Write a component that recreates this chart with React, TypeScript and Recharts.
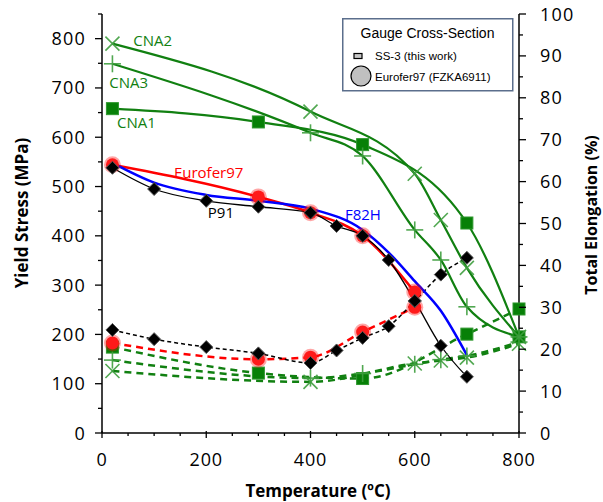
import React from 'react';
import { ComposedChart, Line, XAxis, YAxis, ReferenceDot, Legend } from 'recharts';

// yield stress (MPa, left) and total elongation (%, right) vs test temperature (C)
const euroTemps = [20, 300, 400, 500, 600];
const euroYield = [544, 479, 447, 400, 286];
const euroElong = [21.5, 17.6, 18.1, 24.1, 30.0];

const p91Temps = [20, 100, 200, 300, 400, 450, 500, 550, 600, 650, 700];
const p91Yield = [538, 495, 471, 459, 447, 420, 400, 351, 268, 177, 114];
const p91Elong = [24.6, 22.4, 20.5, 19.0, 16.7, 19.7, 22.7, 25.5, 31.5, 37.8, 41.8];

const f82hTemps = [20, 100, 200, 300, 400, 500, 550, 600, 650, 700];
const f82hYield = [548, 508, 483, 471, 455, 412, 366, 308, 248, 158];

const cna1Temps = [20, 300, 500, 700, 800];
const cna1Yield = [658, 631, 585, 426, 195];
const cna1Elong = [20.5, 14.3, 13.0, 23.6, 29.6];

const cna2Temps = [20, 400, 600, 650, 700, 800];
const cna2Yield = [790, 652, 526, 432, 335, 195];
const cna2Elong = [14.8, 12.2, 16.6, 17.3, 18.0, 21.3];

const cna3Temps = [20, 400, 500, 600, 650, 700, 800];
const cna3Yield = [749, 609, 562, 412, 351, 256, 195];
const cna3Elong = [17.4, 13.1, 14.2, 16.4, 17.5, 18.4, 21.7];

const tempTicks = [0, 50, 100, 150, 200, 250, 300, 350, 400, 450, 500, 550, 600, 650, 700, 750, 800];
const stressTicks = [0, 50, 100, 150, 200, 250, 300, 350, 400, 450, 500, 550, 600, 650, 700, 750, 800, 850];
const elongTicks = [0, 5, 10, 15, 20, 25, 30, 35, 40, 45, 50, 55, 60, 65, 70, 75, 80, 85, 90, 95, 100];

const AX_L = 102;
const AX_R = 519;
const AX_B = 433;
const FONT = '"Open Sans", "Noto Sans", sans-serif';
const GREEN = '#118011';
const MARK_GREEN = '#3f9f3f';

const pts = (ts: number[], vs: number[]) => ts.map((t, i) => ({ t, v: vs[i] }));

const LeftTick = ({ y, payload }: any) => {
  const v = payload.value;
  const major = v % 100 === 0;
  return (
    <g>
      <line x1={AX_L} x2={AX_L - (major ? 7 : 4)} y1={y} y2={y} stroke="#000" strokeWidth={1.3} />
      {major && (
        <text x={86} y={y + 6.5} textAnchor="end" fontFamily={FONT} fontSize={18} letterSpacing={1.2} fill="#000">
          {v}
        </text>
      )}
    </g>
  );
};

const RightTick = ({ y, payload }: any) => {
  const v = payload.value;
  const major = v % 10 === 0;
  return (
    <g>
      <line x1={AX_R} x2={AX_R + (major ? 7 : 4)} y1={y} y2={y} stroke="#000" strokeWidth={1.3} />
      {major && (
        <text x={540} y={y + 6.5} textAnchor="start" fontFamily={FONT} fontSize={18} letterSpacing={1.2} fill="#000">
          {v}
        </text>
      )}
    </g>
  );
};

const BottomTick = ({ x, payload }: any) => {
  const v = payload.value;
  const major = v % 200 === 0;
  return (
    <g>
      <line x1={x} x2={x} y1={major ? AX_B - 2 : AX_B} y2={AX_B + (major ? 5 : 3)} stroke="#000" strokeWidth={1.3} />
      {major && (
        <text x={x} y={466} textAnchor="middle" fontFamily={FONT} fontSize={18} letterSpacing={0.8} fill="#000">
          {v}
        </text>
      )}
    </g>
  );
};

const Square = (p: any) =>
  p.cx == null ? <g key={p.key} /> : (
    <rect key={p.key} x={p.cx - 6} y={p.cy - 6} width={12} height={12} fill="#078007" stroke="#2e972e" strokeWidth={1} />
  );

const Cross = (p: any) =>
  p.cx == null ? <g key={p.key} /> : (
    <g key={p.key} stroke={MARK_GREEN} strokeWidth={1.6} opacity={0.9}>
      <line x1={p.cx - 7} y1={p.cy - 7} x2={p.cx + 7} y2={p.cy + 7} />
      <line x1={p.cx - 7} y1={p.cy + 7} x2={p.cx + 7} y2={p.cy - 7} />
    </g>
  );

const Plus = (p: any) =>
  p.cx == null ? <g key={p.key} /> : (
    <g key={p.key} stroke={MARK_GREEN} strokeWidth={1.6} opacity={0.9}>
      <line x1={p.cx - 8.5} y1={p.cy} x2={p.cx + 8.5} y2={p.cy} />
      <line x1={p.cx} y1={p.cy - 8.5} x2={p.cx} y2={p.cy + 8.5} />
    </g>
  );

const Diamond = (p: any) =>
  p.cx == null ? <g key={p.key} /> : (
    <polygon
      key={p.key}
      points={`${p.cx},${p.cy - 6.5} ${p.cx + 6.5},${p.cy} ${p.cx},${p.cy + 6.5} ${p.cx - 6.5},${p.cy}`}
      fill="#000"
      stroke="#555"
      strokeWidth={1}
    />
  );

const RedDot = (p: any) =>
  p.cx == null ? <g key={p.key} /> : (
    <g key={p.key}>
      <circle cx={p.cx} cy={p.cy} r={8.5} fill="#ff0000" opacity={0.35} />
      <circle cx={p.cx} cy={p.cy} r={6.5} fill="#ff1a1a" />
    </g>
  );

const SeriesLabel = ({ viewBox, text, color }: any) => (
  <text
    x={viewBox.x}
    y={viewBox.y + viewBox.height / 2 + 5.5}
    fontFamily={FONT}
    fontSize={15}
    fill={color}
  >
    {text}
  </text>
);

const LegendBox = () => (
  <svg width={172} height={74} style={{ display: 'block' }}>
    <rect x={0.75} y={0.75} width={170} height={72} fill="#fff" stroke="#5b6e8c" strokeWidth={1.5} />
    <text x={85.5} y={20} textAnchor="middle" fontFamily='"Liberation Sans", Arial, sans-serif' fontSize={14} fill="#000">
      Gauge Cross-Section
    </text>
    <rect x={12} y={35.5} width={8} height={5} fill="#c8c8c8" stroke="#000" strokeWidth={1.2} />
    <text x={33} y={42} fontFamily='"Liberation Sans", Arial, sans-serif' fontSize={11.5} fill="#000">
      SS-3 (this work)
    </text>
    <circle cx={19} cy={58} r={10} fill="#c0c0c0" stroke="#000" strokeWidth={1.2} />
    <text x={33} y={63} fontFamily='"Liberation Sans", Arial, sans-serif' fontSize={11.5} fill="#000">
      Eurofer97 (FZKA6911)
    </text>
  </svg>
);

export default function App() {
  return (
    <div style={{ position: 'relative', width: 603, height: 502, background: '#fff' }}>
      <style>{'body{margin:0}'}</style>
      <ComposedChart width={603} height={502} margin={{ top: 14, right: 0, bottom: 0, left: 0 }}>
        <XAxis
          dataKey="t"
          type="number"
          domain={[0, 800]}
          ticks={tempTicks}
          interval={0}
          height={69}
          tickLine={false}
          tick={<BottomTick />}
          axisLine={{ stroke: '#000', strokeWidth: 1.5 }}
          allowDuplicatedCategory={false}
        />
        <YAxis
          yAxisId="ys"
          orientation="left"
          type="number"
          domain={[0, 850]}
          ticks={stressTicks}
          interval={0}
          width={102}
          tickLine={false}
          tick={<LeftTick />}
          axisLine={{ stroke: '#000', strokeWidth: 1.5 }}
        />
        <YAxis
          yAxisId="el"
          orientation="right"
          type="number"
          domain={[0, 100]}
          ticks={elongTicks}
          interval={0}
          width={84}
          tickLine={false}
          tick={<RightTick />}
          axisLine={{ stroke: '#000', strokeWidth: 1.5 }}
        />
        <Legend
          layout="vertical"
          align="center"
          verticalAlign="middle"
          content={<LegendBox />}
          wrapperStyle={{ position: 'absolute', left: 342, top: 18, width: 172, height: 74 }}
        />

        {/* elongation, dashed */}
        <Line yAxisId="el" data={pts(cna1Temps, cna1Elong)} dataKey="v" type="monotone" stroke={GREEN} strokeWidth={2.5} strokeDasharray="7 5" dot={Square} isAnimationActive={false} />
        <Line yAxisId="el" data={pts(cna2Temps, cna2Elong)} dataKey="v" type="monotone" stroke={GREEN} strokeWidth={2.5} strokeDasharray="7 5" dot={Cross} isAnimationActive={false} />
        <Line yAxisId="el" data={pts(cna3Temps, cna3Elong)} dataKey="v" type="monotone" stroke={GREEN} strokeWidth={2.5} strokeDasharray="7 5" dot={Plus} isAnimationActive={false} />
        <Line yAxisId="el" data={pts(euroTemps, euroElong)} dataKey="v" type="monotone" stroke="#ff0000" strokeWidth={2.5} strokeDasharray="7 5" dot={RedDot} isAnimationActive={false} />
        <Line yAxisId="el" data={pts(p91Temps, p91Elong)} dataKey="v" type="monotone" stroke="#000" strokeWidth={1.5} strokeDasharray="4 3" dot={Diamond} isAnimationActive={false} />

        {/* yield stress, solid */}
        <Line yAxisId="ys" data={pts(cna1Temps, cna1Yield)} dataKey="v" type="monotone" stroke={GREEN} strokeWidth={2.2} dot={Square} isAnimationActive={false} />
        <Line yAxisId="ys" data={pts(cna2Temps, cna2Yield)} dataKey="v" type="monotone" stroke={GREEN} strokeWidth={2.2} dot={Cross} isAnimationActive={false} />
        <Line yAxisId="ys" data={pts(cna3Temps, cna3Yield)} dataKey="v" type="monotone" stroke={GREEN} strokeWidth={2.2} dot={Plus} isAnimationActive={false} />
        <Line yAxisId="ys" data={pts(euroTemps, euroYield)} dataKey="v" type="monotone" stroke="#ff0000" strokeWidth={2.5} dot={RedDot} isAnimationActive={false} />
        <Line yAxisId="ys" data={pts(f82hTemps, f82hYield)} dataKey="v" type="monotone" stroke="#0000ff" strokeWidth={2.5} dot={false} isAnimationActive={false} />
        <Line yAxisId="ys" data={pts(p91Temps, p91Yield)} dataKey="v" type="monotone" stroke="#000" strokeWidth={1.3} dot={Diamond} isAnimationActive={false} />

        <ReferenceDot yAxisId="ys" x={60} y={796} r={0} fill="none" stroke="none" ifOverflow="visible" label={<SeriesLabel text="CNA2" color={GREEN} />} />
        <ReferenceDot yAxisId="ys" x={14} y={711} r={0} fill="none" stroke="none" ifOverflow="visible" label={<SeriesLabel text="CNA3" color={GREEN} />} />
        <ReferenceDot yAxisId="ys" x={29} y={629} r={0} fill="none" stroke="none" ifOverflow="visible" label={<SeriesLabel text="CNA1" color={GREEN} />} />
        <ReferenceDot yAxisId="ys" x={138} y={528} r={0} fill="none" stroke="none" ifOverflow="visible" label={<SeriesLabel text="Eurofer97" color="#ff0000" />} />
        <ReferenceDot yAxisId="ys" x={203} y={447} r={0} fill="none" stroke="none" ifOverflow="visible" label={<SeriesLabel text="P91" color="#000" />} />
        <ReferenceDot yAxisId="ys" x={466} y={443} r={0} fill="none" stroke="none" ifOverflow="visible" label={<SeriesLabel text="F82H" color="#0000ff" />} />
      </ComposedChart>

      <svg width={603} height={502} style={{ position: 'absolute', left: 0, top: 0, pointerEvents: 'none' }}>
        <text x={318} y={497} textAnchor="middle" fontFamily={FONT} fontWeight={700} fontSize={17} fill="#000">
          Temperature (ºC)
        </text>
        <text x={28} y={213} textAnchor="middle" fontFamily={FONT} fontWeight={700} fontSize={17} fill="#000" transform="rotate(-90 28 213)">
          Yield Stress (MPa)
        </text>
        <text x={597} y={215} textAnchor="middle" fontFamily={FONT} fontWeight={700} fontSize={16} fill="#000" transform="rotate(-90 597 215)">
          Total Elongation (%)
        </text>
      </svg>
    </div>
  );
}
